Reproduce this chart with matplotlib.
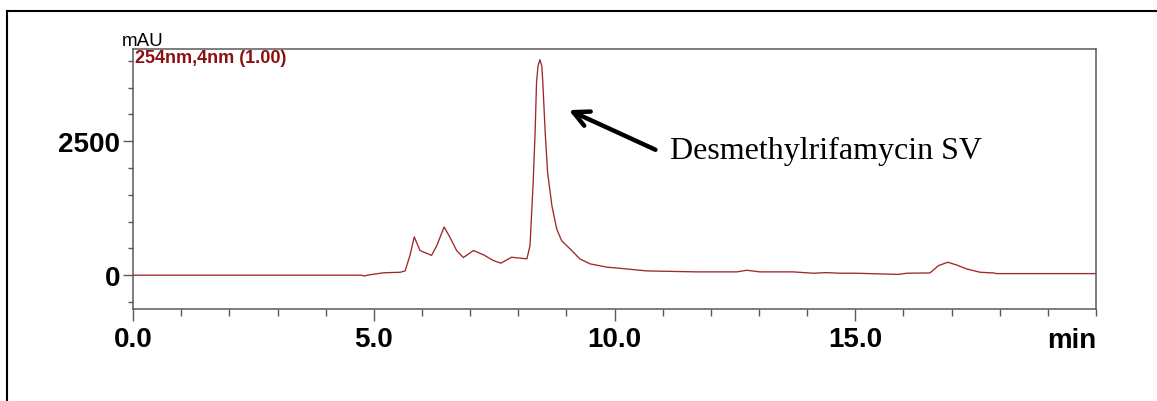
"""
HPLC chromatogram (254 nm) with the Desmethylrifamycin SV peak annotated.
Output: out.png
"""
import matplotlib
matplotlib.use("Agg")
import matplotlib.pyplot as plt
from matplotlib.lines import Line2D
from matplotlib.ticker import MultipleLocator

# ── Data (retention time in min, absorbance in mAU) ──────────────────────────
time_min = [0.0, 4.75, 4.8, 4.9, 5.2, 5.55, 5.65, 5.75, 5.84, 5.96, 6.2, 6.31,
            6.46, 6.58, 6.72, 6.86, 7.07, 7.28, 7.48, 7.64, 7.86, 8.18, 8.245,
            8.31, 8.35, 8.38, 8.41, 8.45, 8.49, 8.51, 8.56, 8.61, 8.7, 8.8,
            8.9, 9.11, 9.28, 9.49, 9.84, 10.1, 10.67, 11.71, 12.54, 12.75,
            13.02, 13.71, 14.13, 14.4, 14.68, 15.0, 15.9, 16.07, 16.55, 16.73,
            16.92, 17.1, 17.31, 17.59, 17.87, 17.94, 20.0]
absorb_mau = [0, 0, -15, 5, 45, 55, 80, 365, 715, 460, 370, 555,
              900, 710, 460, 330, 460, 380, 275, 225, 335, 305, 555,
              1735, 2660, 3600, 3900, 4020, 3900, 3600, 2660, 1915, 1290, 860,
              645, 460, 305, 212, 150, 130, 80, 62, 62, 92,
              62, 62, 37, 48, 37, 37, 15, 37, 42, 180,
              242, 192, 118, 55, 42, 30, 30]

x_ticks = [0, 5, 10, 15]
x_ticklabels = ["0.0", "5.0", "10.0", "15.0"]
y_ticks = [0, 2500]
y_ticklabels = ["0", "2500"]

channel_label = "254nm,4nm (1.00)"
peak_label = "Desmethylrifamycin SV"

TRACE = "#A0282C"
SPINE = "#5a5a5a"

plt.rcParams["font.family"] = ["Liberation Sans", "DejaVu Sans"]


def main():
    fig = plt.figure(figsize=(11.57, 4.02), dpi=100)
    fig.patch.set_facecolor("white")
    ax = fig.add_axes([0.1150, 0.2289, 0.8323, 0.6468])

    ax.plot(time_min, absorb_mau, color=TRACE, lw=0.95)
    ax.set_xlim(0, 20)
    ax.set_ylim(-630, 4220)

    # ── Axes styling ─────────────────────────────────────────────────────────
    for s in ax.spines.values():
        s.set_color(SPINE)
        s.set_linewidth(1.1)

    ax.set_xticks(x_ticks)
    ax.set_xticklabels(x_ticklabels, fontsize=20, fontweight="bold")
    ax.xaxis.set_minor_locator(MultipleLocator(1))
    ax.set_yticks(y_ticks)
    ax.set_yticklabels(y_ticklabels, fontsize=20, fontweight="bold")
    ax.yaxis.set_minor_locator(MultipleLocator(500))

    ax.tick_params(axis="x", which="major", length=8.5, width=1.0,
                   color=SPINE, pad=4)
    ax.tick_params(axis="x", which="minor", length=5, width=1.0, color=SPINE)
    ax.tick_params(axis="y", which="major", length=7.2, width=1.0,
                   color=SPINE, pad=2)
    ax.tick_params(axis="y", which="minor", length=3.6, width=1.0, color=SPINE)

    # x unit sits under the last tick, right-aligned to the frame
    ax.text(1.0, -0.071, "min", transform=ax.transAxes, ha="right", va="top",
            fontsize=20, fontweight="bold")

    # ── Labels ───────────────────────────────────────────────────────────────
    fig.text(122 / 1157, 1 - 46 / 402, "mAU", fontsize=13.5, va="baseline")
    ax.text(0.002, 0.998, channel_label, transform=ax.transAxes, ha="left",
            va="top", fontsize=13, fontweight="bold", color="#8B1010")

    ax.annotate("", xy=(9.05, 3080), xytext=(10.85, 2340),
                arrowprops=dict(arrowstyle="->", lw=3.2, color="black",
                                mutation_scale=28, shrinkA=0, shrinkB=0))
    ax.text(11.15, 2320, peak_label, ha="left", va="center", fontsize=23,
            family=["Liberation Serif", "DejaVu Serif"])

    # ── Outer frame (partially cropped in the source) ────────────────────────
    fx, fy = 7.3 / 1157, 1 - 11.7 / 402
    fig.add_artist(Line2D([fx, 1.0], [fy, fy], transform=fig.transFigure,
                          color="black", lw=1.5))
    fig.add_artist(Line2D([fx, fx], [fy, 0.0], transform=fig.transFigure,
                          color="black", lw=1.5))

    fig.savefig("out.png", dpi=100, facecolor="white")


if __name__ == "__main__":
    main()
